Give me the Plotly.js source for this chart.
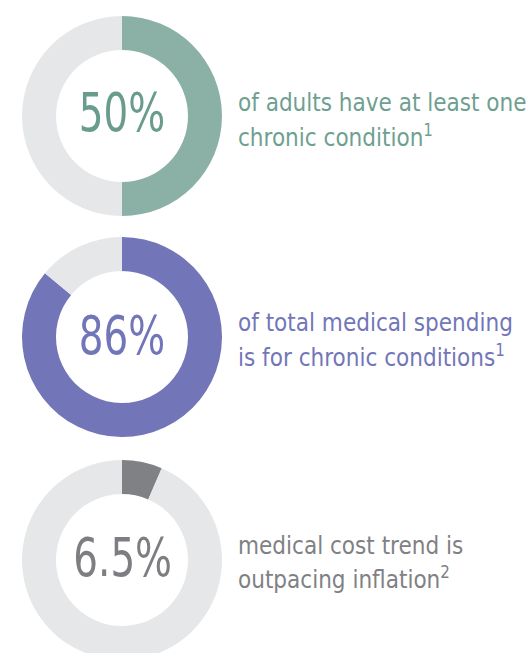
<!DOCTYPE html>
<html>
<head>
<meta charset="utf-8">
<script src="https://cdn.plot.ly/plotly-3.0.1.min.js"></script>
<style>
  html, body { margin: 0; padding: 0; background: #fff; overflow: hidden; }
  #chart { width: 530px; height: 680px; }
</style>
</head>
<body>
<div id="chart"></div>
<script>
// data
let statLabels = ["50%", "86%", "6.5%"];
let statValues = [50, 86, 6.5];
let statLines = [
  ["of adults have at least one", "chronic condition<sup>1</sup>"],
  ["of total medical spending", "is for chronic conditions<sup>1</sup>"],
  ["medical cost trend is", "outpacing inflation<sup>2</sup>"]
];
let ringColors = ["#8bb0a6", "#7276b8", "#808184"];
let textColors = ["#6e9f91", "#7276b8", "#808184"];
let numColors = ["#6a9c8d", "#7276b8", "#7d7e81"];
let restColor = "#e6e7e8";

const W = 530, H = 680;
const bigFont = "'DejaVu Sans Condensed', Roboto, sans-serif";
const bodyFont = "'DejaVu Sans Condensed', Roboto, sans-serif";

// donut tops in px and text positions
let ringTops = [16, 237, 460];
let numCenters = [113, 335, 557];
let lineBase = [[110, 143], [330, 363], [553, 585]];

let px = x => x / W;
let py = y => 1 - y / H;

let data = [];
let annotations = [];

statValues.forEach((v, i) => {
  data.push({
    type: "pie",
    values: [v, 100 - v],
    labels: ["stat", "rest"],
    sort: false,
    direction: "clockwise",
    rotation: 0,
    hole: 0.66,
    textinfo: "none",
    hoverinfo: "none",
    showlegend: false,
    marker: { colors: [ringColors[i], restColor], line: { width: 0 } },
    domain: { x: [px(22), px(222)], y: [py(ringTops[i] + 200), py(ringTops[i])] }
  });

  annotations.push({
    text: statLabels[i],
    xref: "paper", yref: "paper",
    x: px(122), y: py(numCenters[i]),
    xanchor: "center", yanchor: "middle",
    showarrow: false,
    font: { family: bigFont, size: 54, color: numColors[i] }
  });

  statLines[i].forEach((line, j) => {
    annotations.push({
      text: line,
      xref: "paper", yref: "paper",
      x: px(236), y: py(lineBase[i][j] - 7),
      xanchor: "left", yanchor: "middle",
      showarrow: false,
      font: { family: bodyFont, size: 24, color: textColors[i] }
    });
  });
});

let layout = {
  width: W,
  height: H,
  margin: { l: 0, r: 0, t: 0, b: 0 },
  paper_bgcolor: "#fff",
  annotations: annotations
};

Plotly.newPlot("chart", data, layout, { displayModeBar: false, staticPlot: true }).then(gd => {
  // squeeze the big numbers horizontally so they look condensed
  gd.querySelectorAll(".annotation").forEach(a => {
    if (!statLabels.includes(a.getAttribute("data-index") !== null ? annotations[+a.getAttribute("data-index")].text : "")) return;
    let t = a.querySelector("text");
    let bb = t.getBBox();
    let cx = bb.x + bb.width / 2;
    t.setAttribute("transform", `translate(${cx},0) scale(0.8,1) translate(${-cx},0)`);
  });
});
</script>
</body>
</html>
